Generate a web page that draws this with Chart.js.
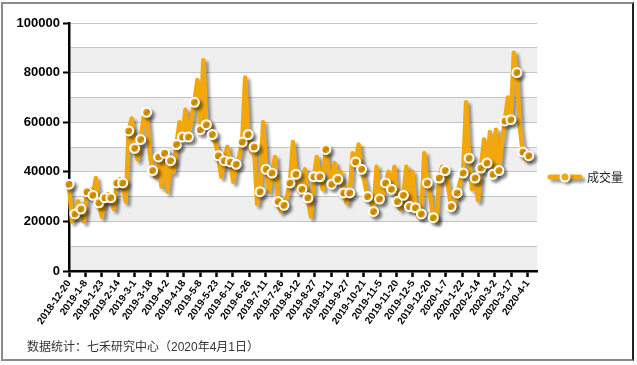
<!DOCTYPE html>
<html>
<head>
<meta charset="utf-8">
<script src="https://cdn.jsdelivr.net/npm/chart.js@4"></script>
<style>
  html, body { margin: 0; padding: 0; background: #fff; }
  #wrap { position: relative; width: 637px; height: 365px; }
  #frame { position: absolute; left: 1px; top: 2px; width: 633px; height: 359px; box-sizing: border-box;
           border: 2px solid #8a8a8a; border-right-color: #222; pointer-events: none; }
  #note { position: absolute; left: 27px; top: 341px; font: 12px/1 "Liberation Sans", "Noto Sans CJK SC", sans-serif; color: #333; }
</style>
</head>
<body>
<div id="wrap">
  <canvas id="chart" width="637" height="365"></canvas>
  <div id="frame"></div>
  <div id="note">数据统计：七禾研究中心（2020年4月1日）</div>
</div>
<script>
// x axis tick labels (one every ~11 trading days)
const dateLabels = [
    "2018-12-20", "2019-1-8", "2019-1-23", "2019-2-14", "2019-3-1", "2019-3-18", "2019-4-2",
    "2019-4-18", "2019-5-8", "2019-5-23", "2019-6-11", "2019-6-26", "2019-7-11", "2019-7-26",
    "2019-8-12", "2019-8-27", "2019-9-11", "2019-9-27", "2019-10-21", "2019-11-5", "2019-11-20",
    "2019-12-5", "2019-12-20", "2020-1-7", "2020-1-22", "2020-2-14", "2020-3-2", "2020-3-17", "2020-4-1"
];

// 成交量 (markers sit on every second value)
const volume = [
    35000, 20000, 23000, 28000, 25000, 20000, 32000, 33000, 30500, 37500,
    27500, 22000, 29500, 31000, 29500, 25000, 35500, 37000, 35500, 28000,
    56500, 61500, 49500, 45000, 53000, 62000, 64000, 48000, 40500, 38000,
    46000, 34000, 47500, 32000, 44500, 40000, 51000, 60000, 54000, 65000,
    54000, 61000, 68000, 77000, 57000, 85000, 59000, 60000, 55000, 52000,
    46500, 38000, 44500, 50000, 44000, 36000, 43000, 46000, 52000, 78000,
    55000, 48000, 50000, 27000, 32000, 60000, 41000, 32000, 39500, 46000,
    28000, 24000, 26500, 30000, 35500, 52000, 39000, 32000, 33000, 41000,
    29500, 22000, 38000, 46000, 38000, 33000, 49000, 40000, 35000, 43500,
    37000, 40000, 31500, 27500, 31500, 47500, 44000, 51000, 41000, 36000,
    30000, 29000, 24000, 42000, 29000, 30000, 35500, 40000, 33000, 42000,
    28000, 25000, 30500, 42000, 26000, 40000, 25500, 22000, 23000, 47500,
    35500, 30000, 21500, 20000, 37500, 42000, 40500, 34000, 26000, 27000,
    31500, 36000, 39500, 68000, 45500, 33000, 37500, 28500, 41500, 53000,
    43500, 56000, 39000, 57000, 40500, 52000, 60500, 70000, 61000, 88000,
    80000, 58000, 48000, 45000, 46500
];

const seriesName = "成交量";
const lastPos = 28.07;   // where the last value sits, in label steps
const orange = "#f2a70c";

const points = volume.map((v, i) => ({ x: i * lastPos / (volume.length - 1), y: v }));

// alternating grey bands behind the grid
const bandPlugin = {
    id: "bands",
    beforeDraw(chart) {
        const { ctx, chartArea: a, scales: { y } } = chart;
        ctx.save();
        ctx.fillStyle = "#efefef";
        for (let v = 0; v < 100000; v += 20000) {
            const top = y.getPixelForValue(v + 10000);
            const bot = y.getPixelForValue(v);
            ctx.fillRect(a.left, top, a.right - a.left, bot - top);
        }
        ctx.restore();
    }
};

// drop shadow under the line
const shadowPlugin = {
    id: "shadow",
    beforeDatasetDraw(chart) {
        const ctx = chart.ctx;
        ctx.save();
        ctx.shadowColor = "rgba(0,0,0,0.4)";
        ctx.shadowOffsetX = 3;
        ctx.shadowOffsetY = 3;
        ctx.shadowBlur = 3;
    },
    afterDatasetDraw(chart) {
        chart.ctx.restore();
    }
};

// legend on the right: line with a marker, then the name
const legendPlugin = {
    id: "sideLegend",
    afterDraw(chart) {
        const { ctx, chartArea: a } = chart;
        const x0 = a.right + 13;
        const y0 = Math.round((a.top + a.bottom) / 2) + 30;
        ctx.save();
        ctx.shadowColor = "rgba(0,0,0,0.4)";
        ctx.shadowOffsetX = 3;
        ctx.shadowOffsetY = 3;
        ctx.shadowBlur = 3;
        ctx.strokeStyle = orange;
        ctx.lineWidth = 5;
        ctx.lineCap = "round";
        ctx.beginPath();
        ctx.moveTo(x0, y0);
        ctx.lineTo(x0 + 30, y0);
        ctx.stroke();
        ctx.beginPath();
        ctx.arc(x0 + 15, y0, 4.5, 0, Math.PI * 2);
        ctx.fillStyle = orange;
        ctx.fill();
        ctx.shadowColor = "transparent";
        ctx.lineWidth = 2;
        ctx.strokeStyle = "#fff";
        ctx.stroke();
        ctx.fillStyle = "#222";
        ctx.font = '12px "Noto Sans CJK SC", sans-serif';
        ctx.textBaseline = "middle";
        ctx.fillText(seriesName, x0 + 37, y0);
        ctx.restore();
    }
};

new Chart(document.getElementById("chart"), {
    type: "line",
    data: {
        datasets: [{
            label: seriesName,
            data: points,
            borderColor: orange,
            borderWidth: 4.5,
            borderCapStyle: "round",
            borderJoinStyle: "round",
            tension: 0,
            clip: false,
            pointRadius: (c) => (c.index % 2 === 0 ? 4.5 : 0),
            pointBackgroundColor: orange,
            pointBorderColor: "#fff",
            pointBorderWidth: 2,
        }],
    },
    options: {
        responsive: false,
        animation: false,
        devicePixelRatio: 1,
        layout: { padding: { top: 23, right: 100, bottom: 0, left: 0 } },
        plugins: {
            legend: { display: false },
            tooltip: { enabled: false },
        },
        scales: {
            x: {
                type: "linear",
                min: 0,
                max: 28.57,
                afterBuildTicks: (scale) => {
                    scale.ticks = dateLabels.map((_, i) => ({ value: i }));
                },
                afterFit: (scale) => { scale.height = 94; },
                border: { color: "#000", width: 2.5 },
                grid: { drawOnChartArea: false, tickLength: 6, tickColor: "#000", tickWidth: 2.5 },
                ticks: {
                    autoSkip: false,
                    minRotation: 55,
                    maxRotation: 55,
                    padding: 1,
                    color: "#000",
                    font: { family: "Liberation Sans", size: 10, weight: "bold" },
                    callback: (v) => dateLabels[v],
                },
            },
            y: {
                min: 0,
                max: 100000,
                afterFit: (scale) => { scale.width = 69; },
                border: { color: "#000", width: 2.5 },
                grid: {
                    color: "#c4c4c4",
                    lineWidth: 1,
                    tickLength: 6,
                    tickWidth: 2,
                    tickColor: (c) => (c.tick && c.tick.value % 20000 === 0 ? "#000" : "transparent"),
                },
                ticks: {
                    stepSize: 10000,
                    padding: 3,
                    color: "#000",
                    font: { family: "Liberation Sans", size: 13, weight: "bold" },
                    callback: (v) => (v % 20000 === 0 ? String(v) : ""),
                },
            },
        },
    },
    plugins: [bandPlugin, shadowPlugin, legendPlugin],
});
</script>
</body>
</html>
